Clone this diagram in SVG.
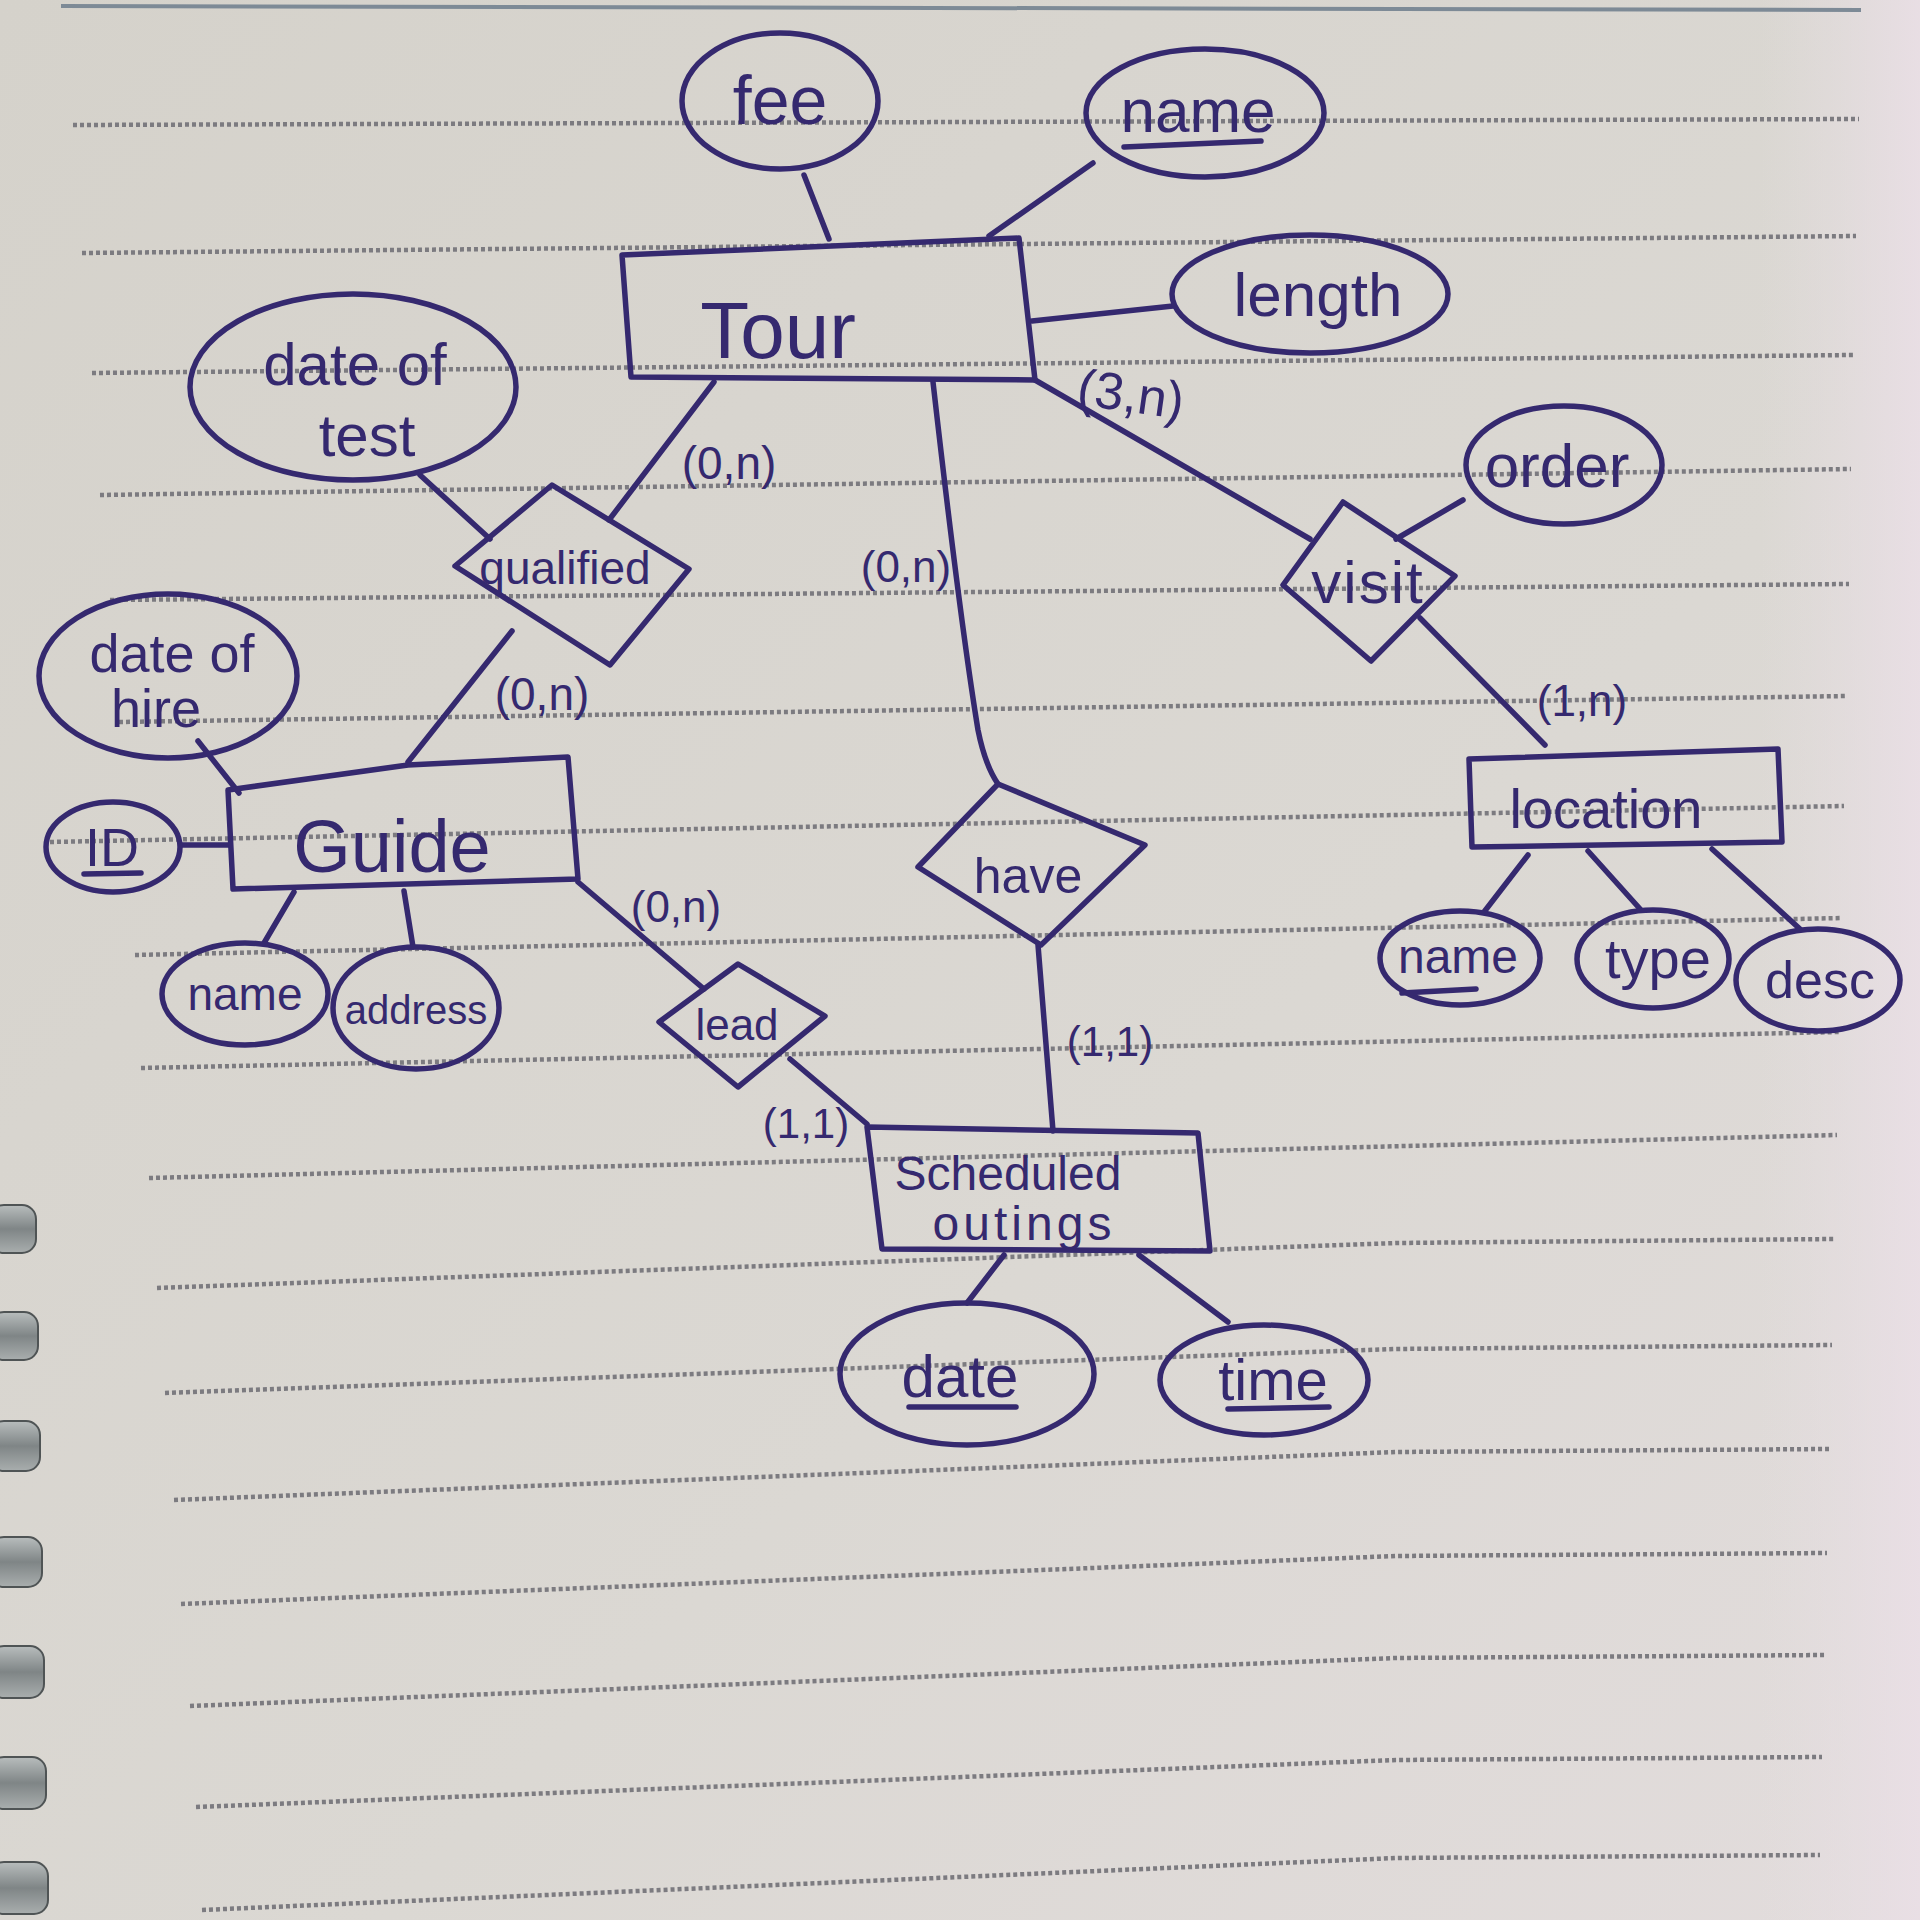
<svg xmlns="http://www.w3.org/2000/svg" width="1920" height="1920" viewBox="0 0 1920 1920">
<defs>
<linearGradient id="paper" x1="0" y1="0" x2="1" y2="1">
<stop offset="0" stop-color="#d5d2cb"/>
<stop offset="0.6" stop-color="#dbd8d3"/>
<stop offset="1" stop-color="#e2dcdc"/>
</linearGradient>
<linearGradient id="edge" x1="0" y1="0" x2="1" y2="0">
<stop offset="0" stop-color="#e6dfe2" stop-opacity="0"/>
<stop offset="1" stop-color="#eadfe6" stop-opacity="0.9"/>
</linearGradient>
<linearGradient id="ring" x1="0" y1="0" x2="0" y2="1">
<stop offset="0" stop-color="#b8bdbd"/>
<stop offset="0.5" stop-color="#7f8586"/>
<stop offset="1" stop-color="#a9aeae"/>
</linearGradient>
</defs>
<style>
.rule{fill:none;stroke:#7c7b80;stroke-width:4.5;stroke-dasharray:4 3}
.ink{fill:none;stroke:#35296f;stroke-width:5.5;stroke-linejoin:round;stroke-linecap:round}
.t{fill:#35296f;font-family:"Liberation Sans","DejaVu Sans",sans-serif;text-anchor:middle}
.ring{fill:url(#ring);stroke:#4f5455;stroke-width:2}
</style>
<rect x="0" y="0" width="1920" height="1920" fill="url(#paper)"/>
<rect x="1760" y="0" width="160" height="1920" fill="url(#edge)"/>
<g id="paper-rules">
<path d="M61,6 L1861,10" fill="none" stroke="#7d8a96" stroke-width="4"/>
<path class="rule" d="M73,125 L1859,119"/>
<path class="rule" d="M82,253 L1856,236"/>
<path class="rule" d="M92,373 L1854,355"/>
<path class="rule" d="M100,495 L1851,469"/>
<path class="rule" d="M110,600 L1849,584"/>
<path class="rule" d="M119,722 L1847,696"/>
<path class="rule" d="M50,842 L1844,806"/>
<path class="rule" d="M135,955 L1842,918"/>
<path class="rule" d="M141,1068 L1839,1032"/>
<path class="rule" d="M149,1178 L1837,1135"/>
<path class="rule" d="M157,1288 L1396,1243 L1834,1239"/>
<path class="rule" d="M165,1393 L1396,1349 L1832,1345"/>
<path class="rule" d="M174,1500 L1396,1452 L1829,1449"/>
<path class="rule" d="M181,1604 L1396,1556 L1827,1553"/>
<path class="rule" d="M190,1706 L1396,1658 L1825,1655"/>
<path class="rule" d="M196,1807 L1396,1760 L1822,1757"/>
<path class="rule" d="M202,1910 L1396,1858 L1820,1855"/>
</g>
<g id="binding">
<rect class="ring" x="-10" y="1205" width="46" height="48" rx="14"/>
<rect class="ring" x="-10" y="1312" width="48" height="48" rx="14"/>
<rect class="ring" x="-10" y="1421" width="50" height="50" rx="14"/>
<rect class="ring" x="-10" y="1537" width="52" height="50" rx="14"/>
<rect class="ring" x="-10" y="1646" width="54" height="52" rx="14"/>
<rect class="ring" x="-10" y="1757" width="56" height="52" rx="14"/>
<rect class="ring" x="-10" y="1862" width="58" height="52" rx="14"/>
</g>
<g id="connectors">
<path class="ink" d="M804,175 L829,239"/>
<path class="ink" d="M1093,163 L989,236"/>
<path class="ink" d="M1032,321 L1173,306"/>
<path class="ink" d="M714,382 L609,520"/>
<path class="ink" d="M420,475 L490,539"/>
<path class="ink" d="M512,631 L408,762"/>
<path class="ink" d="M198,741 L239,793"/>
<path class="ink" d="M181,845 L230,845"/>
<path class="ink" d="M294,892 L264,943"/>
<path class="ink" d="M404,891 L413,947"/>
<path class="ink" d="M578,882 L704,989"/>
<path class="ink" d="M790,1059 L867,1124"/>
<path class="ink" d="M933,382 Q960,620 978,730 Q985,765 998,784"/>
<path class="ink" d="M1038,945 L1053,1131"/>
<path class="ink" d="M1004,1255 L967,1303"/>
<path class="ink" d="M1139,1255 L1228,1322"/>
<path class="ink" d="M1035,380 L1310,539"/>
<path class="ink" d="M1396,539 L1463,500"/>
<path class="ink" d="M1420,618 L1545,745"/>
<path class="ink" d="M1528,855 L1484,912"/>
<path class="ink" d="M1588,851 L1641,910"/>
<path class="ink" d="M1712,849 L1800,929"/>
</g>
<g id="cardinalities">
<text class="t" x="729" y="479" font-size="46">(0,n)</text>
<text class="t" x="906" y="582" font-size="44">(0,n)</text>
<text class="t" x="1131" y="412" font-size="52" transform="rotate(8 1131 394)">(3,n)</text>
<text class="t" x="542" y="710" font-size="46">(0,n)</text>
<text class="t" x="676" y="922" font-size="44">(0,n)</text>
<text class="t" x="806" y="1138" font-size="42">(1,1)</text>
<text class="t" x="1110" y="1056" font-size="42">(1,1)</text>
<text class="t" x="1582" y="716" font-size="44">(1,n)</text>
</g>
<g id="tour">
<path class="ink" d="M622,255 L1019,238 L1035,380 L631,377 Z"/>
<text class="t" x="778" y="358" font-size="80">Tour</text>
</g>
<g id="tour-fee">
<ellipse class="ink" cx="780" cy="101" rx="98" ry="68"/>
<text class="t" x="780" y="124" font-size="68">fee</text>
</g>
<g id="tour-name">
<ellipse class="ink" cx="1205" cy="113" rx="119" ry="64"/>
<text class="t" x="1198" y="132" font-size="62">name</text>
<path class="ink" d="M1124,147 L1261,141"/>
</g>
<g id="tour-length">
<ellipse class="ink" cx="1310" cy="294" rx="138" ry="59"/>
<text class="t" x="1318" y="316" font-size="62">length</text>
</g>
<g id="qualified">
<path class="ink" d="M552,485 L689,569 L610,665 L455,566 Z"/>
<text class="t" x="565" y="584" font-size="46">qualified</text>
</g>
<g id="qualified-date-of-test">
<ellipse class="ink" cx="353" cy="387" rx="163" ry="93"/>
<text class="t" x="355" y="385" font-size="60">date of</text>
<text class="t" x="367" y="456" font-size="60">test</text>
</g>
<g id="guide">
<path class="ink" d="M228,790 L408,765 L568,757 L578,879 L233,889 Z"/>
<text class="t" x="392" y="872" font-size="74">Guide</text>
</g>
<g id="guide-date-of-hire">
<ellipse class="ink" cx="168" cy="676" rx="129" ry="82"/>
<text class="t" x="172" y="672" font-size="54">date of</text>
<text class="t" x="156" y="727" font-size="54">hire</text>
</g>
<g id="guide-id">
<ellipse class="ink" cx="113" cy="847" rx="67" ry="45"/>
<text class="t" x="112" y="866" font-size="54">ID</text>
<path class="ink" d="M84,874 L141,873"/>
</g>
<g id="guide-name">
<ellipse class="ink" cx="245" cy="994" rx="83" ry="51"/>
<text class="t" x="245" y="1010" font-size="46">name</text>
</g>
<g id="guide-address">
<ellipse class="ink" cx="416" cy="1008" rx="83" ry="61"/>
<text class="t" x="416" y="1024" font-size="40">address</text>
</g>
<g id="lead">
<path class="ink" d="M738,964 L825,1016 L738,1087 L659,1022 Z"/>
<text class="t" x="737" y="1040" font-size="44">lead</text>
</g>
<g id="have">
<path class="ink" d="M998,784 L1145,845 L1041,945 L918,867 Z"/>
<text class="t" x="1028" y="893" font-size="50">have</text>
</g>
<g id="scheduled-outings">
<path class="ink" d="M867,1127 L1198,1133 L1210,1251 L882,1249 Z"/>
<text class="t" x="1008" y="1190" font-size="48">Scheduled</text>
<text class="t" x="1024" y="1240" font-size="48" letter-spacing="4">outings</text>
</g>
<g id="outing-date">
<ellipse class="ink" cx="967" cy="1374" rx="127" ry="71"/>
<text class="t" x="960" y="1397" font-size="60">date</text>
<path class="ink" d="M909,1407 L1016,1407"/>
</g>
<g id="outing-time">
<ellipse class="ink" cx="1264" cy="1380" rx="104" ry="55"/>
<text class="t" x="1273" y="1400" font-size="58">time</text>
<path class="ink" d="M1228,1409 L1329,1407"/>
</g>
<g id="visit">
<path class="ink" d="M1343,502 L1455,576 L1371,661 L1283,585 Z"/>
<text class="t" x="1368" y="603" font-size="60" letter-spacing="2">visit</text>
</g>
<g id="visit-order">
<ellipse class="ink" cx="1564" cy="465" rx="98" ry="59"/>
<text class="t" x="1557" y="487" font-size="62">order</text>
</g>
<g id="location">
<path class="ink" d="M1469,759 L1778,749 L1782,842 L1472,847 Z"/>
<text class="t" x="1606" y="828" font-size="56">location</text>
</g>
<g id="location-name">
<ellipse class="ink" cx="1460" cy="958" rx="80" ry="47"/>
<text class="t" x="1458" y="973" font-size="48">name</text>
<path class="ink" d="M1402,993 L1476,989"/>
</g>
<g id="location-type">
<ellipse class="ink" cx="1653" cy="959" rx="76" ry="49"/>
<text class="t" x="1658" y="978" font-size="56">type</text>
</g>
<g id="location-desc">
<ellipse class="ink" cx="1818" cy="980" rx="82" ry="51"/>
<text class="t" x="1820" y="998" font-size="52">desc</text>
</g>
</svg>
